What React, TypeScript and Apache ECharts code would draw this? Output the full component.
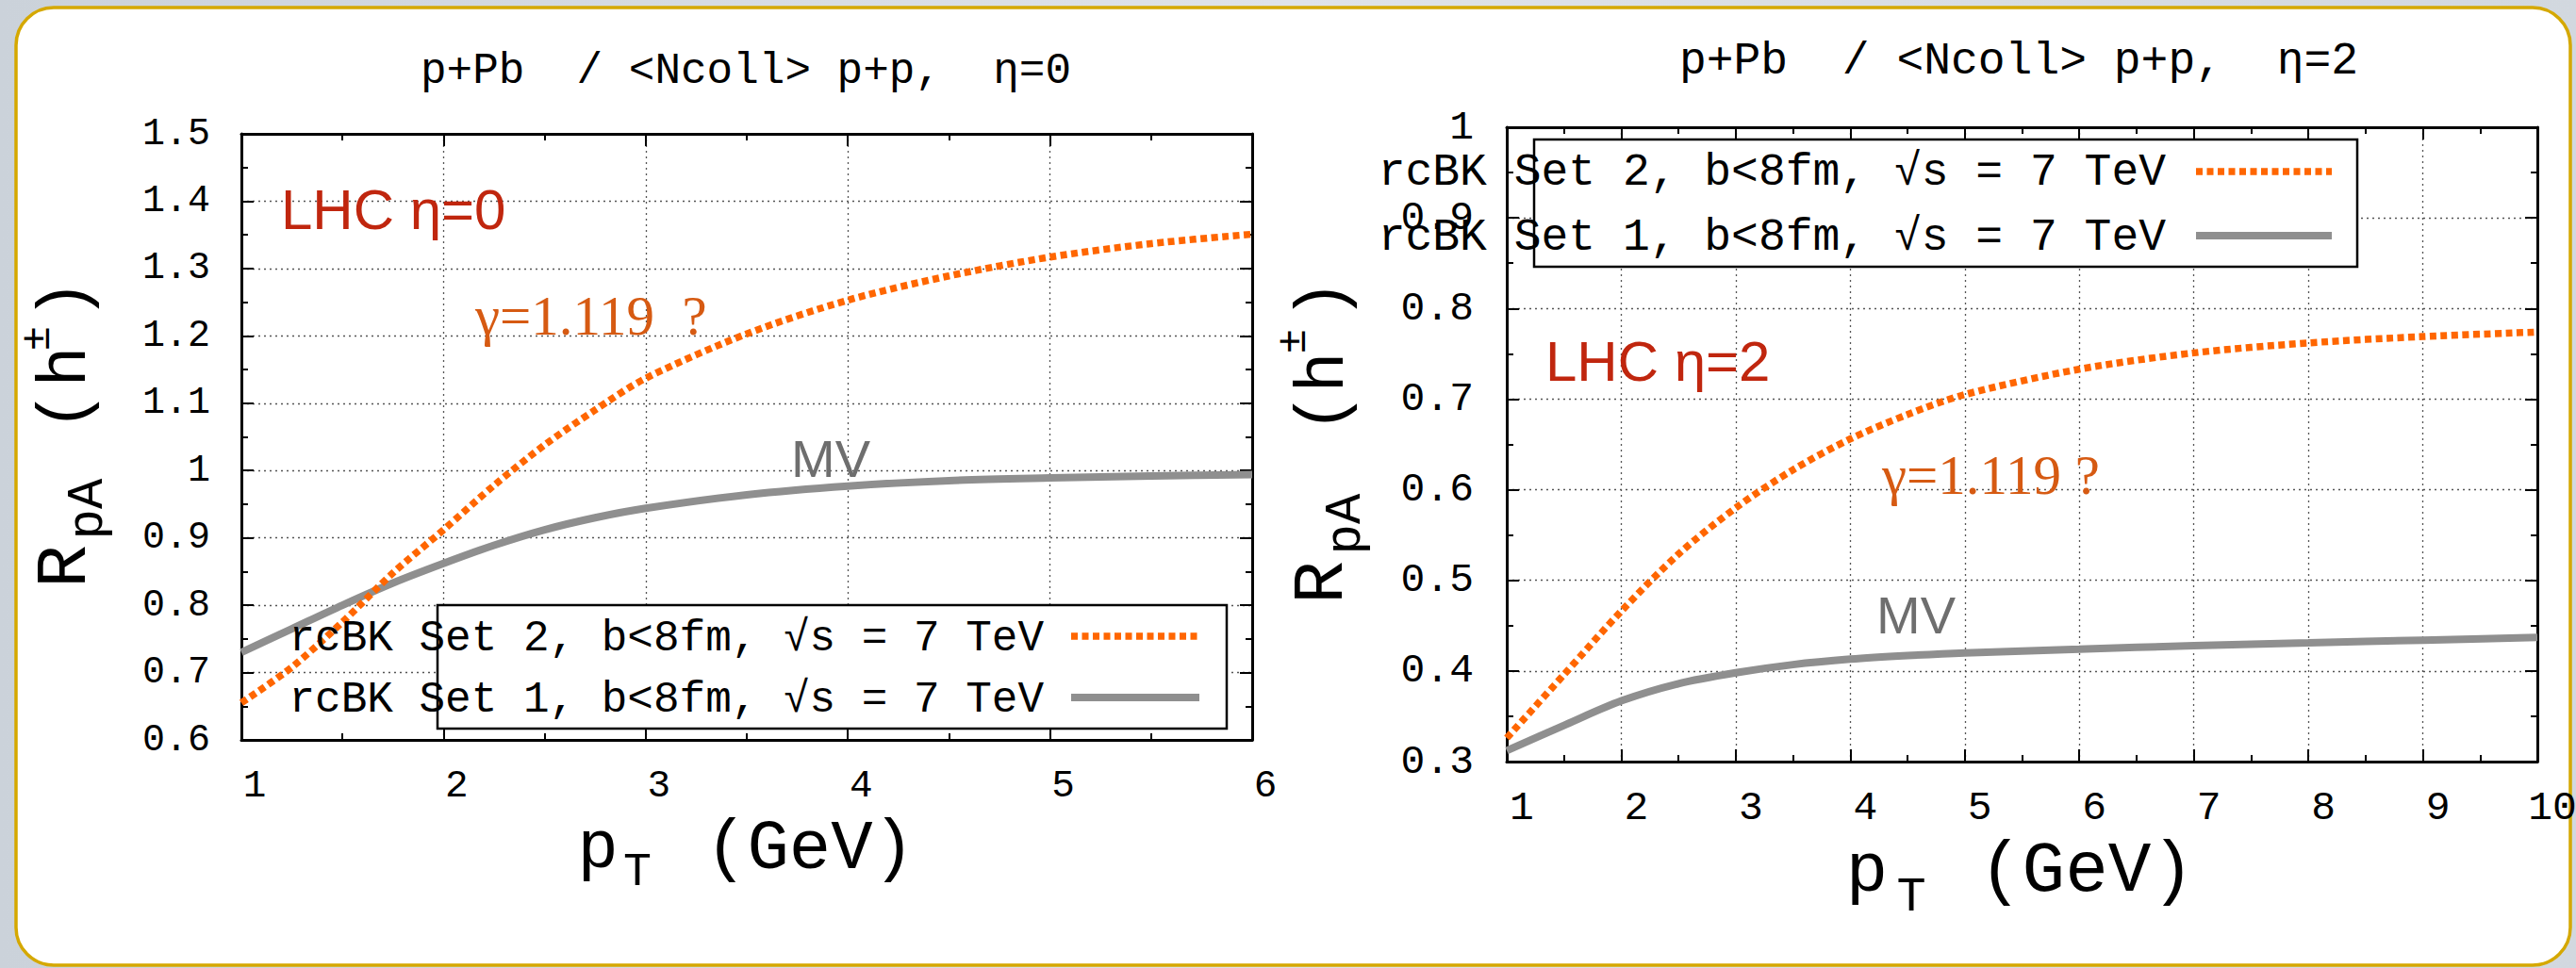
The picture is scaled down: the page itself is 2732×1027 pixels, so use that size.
import React, { useEffect, useRef } from 'react';
import * as echarts from 'echarts';

const W = 2732;
const H = 1027;

// Curve names, shared by both panels (Set 2 first, as listed in the key)
const curveNames = ['rcBK Set 2, b<8fm, √s = 7 TeV', 'rcBK Set 1, b<8fm, √s = 7 TeV'];

// η = 0 panel: R_pA versus p_T
const ptEta0 = [1, 1.25, 1.5, 1.75, 2, 2.25, 2.5, 2.75, 3, 3.5, 4, 4.5, 5, 5.5, 6];
const set2Eta0 = [0.655, 0.708, 0.775, 0.848, 0.912, 0.978, 1.038, 1.09, 1.137, 1.203, 1.253, 1.289, 1.317, 1.337, 1.351];
const set1Eta0 = [0.73, 0.765, 0.8, 0.833, 0.862, 0.889, 0.912, 0.93, 0.944, 0.964, 0.977, 0.985, 0.989, 0.992, 0.994];

// η = 2 panel: R_pA versus p_T
const ptEta2 = [1, 1.5, 2, 2.5, 3, 3.5, 4, 4.5, 5, 6, 7, 8, 9, 10];
const set2Eta2 = [0.326, 0.396, 0.466, 0.529, 0.58, 0.622, 0.656, 0.683, 0.705, 0.733, 0.751, 0.762, 0.769, 0.774];
const set1Eta2 = [0.312, 0.34, 0.367, 0.386, 0.398, 0.407, 0.413, 0.417, 0.42, 0.424, 0.428, 0.431, 0.434, 0.437];

// Axis ranges
const xRangeEta0 = [1, 6];
const yRangeEta0 = [0.6, 1.5];
const xRangeEta2 = [1, 10];
const yRangeEta2 = [0.3, 1];

// Panel texts
const panelTitles = ['p+Pb\u00a0 / <Ncoll> p+p,\u00a0 η=0', 'p+Pb\u00a0 / <Ncoll> p+p,\u00a0 η=2'];
const regionLabels = ['LHC η=0', 'LHC η=2'];
const gammaLabels = ['γ=1.119\u00a0 ?', 'γ=1.119 ?'];
const modelLabel = 'MV';

const MONO = '"Liberation Mono", "DejaVu Sans Mono", monospace';
const SANS = '"Liberation Sans", Arial, sans-serif';
const SERIF = '"Liberation Serif", "Times New Roman", serif';

const ORANGE = '#ff6600';
const GREY = '#8f8f8f';
const DOTS = [7, 4.5];

const zip = (xs: number[], ys: number[]) => xs.map((x, i) => [x, ys[i]]);

function makeXAxis(gridIndex: number, range: number[], main: boolean, lab: any) {
  return {
    type: 'value',
    gridIndex,
    position: main ? 'bottom' : 'top',
    min: range[0],
    max: range[1],
    interval: 1,
    axisLine: { show: true, onZero: false, lineStyle: { color: '#000', width: 3 } },
    axisTick: { show: true, inside: true, length: 13, lineStyle: { color: '#000', width: 2 } },
    minorTick: { show: true, splitNumber: 2, length: 7, lineStyle: { color: '#000', width: 2 } },
    splitLine: { show: main, lineStyle: { color: '#555', width: 1.3, type: [2, 4] } },
    minorSplitLine: { show: false },
    axisLabel: main
      ? {
          show: true,
          margin: lab.margin,
          fontSize: lab.size,
          fontFamily: MONO,
          color: '#000',
          padding: [0, 0, 0, lab.pad],
          showMinLabel: true,
          showMaxLabel: true,
        }
      : { show: false },
  };
}

function makeYAxis(gridIndex: number, range: number[], main: boolean, lab: any) {
  return {
    type: 'value',
    gridIndex,
    position: main ? 'left' : 'right',
    min: range[0],
    max: range[1],
    interval: 0.1,
    axisLine: { show: true, onZero: false, lineStyle: { color: '#000', width: 3 } },
    axisTick: { show: true, inside: true, length: 13, lineStyle: { color: '#000', width: 2 } },
    minorTick: { show: true, splitNumber: 2, length: 7, lineStyle: { color: '#000', width: 2 } },
    splitLine: { show: main, lineStyle: { color: '#555', width: 1.3, type: [2, 4] } },
    minorSplitLine: { show: false },
    axisLabel: main
      ? {
          show: true,
          margin: lab.margin,
          fontSize: lab.size,
          fontFamily: MONO,
          color: '#000',
          showMinLabel: true,
          showMaxLabel: true,
        }
      : { show: false },
  };
}

function txt(x: number, y: number, text: string, size: number, family: string, fill: string, align = 'left', z = 20) {
  return {
    type: 'text',
    x,
    y,
    z,
    style: {
      text,
      fontSize: size,
      fontFamily: family,
      fill,
      align,
      textAlign: align,
      verticalAlign: 'middle',
      textVerticalAlign: 'middle',
    },
  };
}

// Vertical "R_pA (h^±)" axis title; pieces are given by screen centre (x across, y along)
function yTitle(p: { R: number[]; pA: number[]; open: number[]; h: number[]; pm: number[]; close: number[] }) {
  const piece = (c: number[], t: string, size: number) => ({
    type: 'text',
    x: -c[1] * 0 + 0,
    y: 0,
    z: 20,
    style: {
      text: t,
      x: -c[1],
      y: c[0],
      fontSize: size,
      fontFamily: MONO,
      fill: '#000',
      align: 'center',
      textAlign: 'center',
      verticalAlign: 'middle',
      textVerticalAlign: 'middle',
    },
  });
  return {
    type: 'group',
    x: 0,
    y: 0,
    rotation: Math.PI / 2,
    children: [
      piece(p.R, 'R', 76),
      piece(p.pA, 'pA', 54),
      piece(p.open, '(', 72),
      piece(p.h, 'h', 72),
      piece(p.pm, '±', 44),
      piece(p.close, ')', 72),
    ],
  };
}

function legend(box: number[], textRight: number, sample: number[], rows: number[], lineRows: number[], size: number) {
  const els: any[] = [
    {
      type: 'rect',
      z: 5,
      shape: { x: box[0], y: box[1], width: box[2], height: box[3] },
      style: { fill: '#fff', stroke: '#000', lineWidth: 2.5 },
    },
  ];
  const styles = [
    { stroke: ORANGE, lineWidth: 7.5, lineDash: DOTS, lineCap: 'butt' },
    { stroke: GREY, lineWidth: 8, lineCap: 'butt' },
  ];
  curveNames.forEach((name, i) => {
    els.push(txt(textRight, rows[i], name, size, MONO, '#000', 'right', 8));
    els.push({
      type: 'line',
      z: 8,
      shape: { x1: sample[0], y1: lineRows[i], x2: sample[1], y2: lineRows[i] },
      style: styles[i],
    });
  });
  return els;
}

export default function App() {
  const ref = useRef<HTMLDivElement>(null);

  useEffect(() => {
    if (!ref.current) return;
    const chart = echarts.init(ref.current, null, { renderer: 'svg', width: W, height: H });

    const lineSeries = (name: string, xi: number, data: number[][], dotted: boolean) => ({
      type: 'line',
      name,
      xAxisIndex: xi,
      yAxisIndex: xi,
      data,
      smooth: 0.3,
      symbol: 'none',
      showSymbol: false,
      z: dotted ? 4 : 3,
      lineStyle: dotted
        ? { color: ORANGE, width: 7.5, type: DOTS, cap: 'butt' }
        : { color: GREY, width: 8, type: 'solid', cap: 'butt' },
    });

    const option: any = {
      animation: false,
      backgroundColor: 'transparent',
      grid: [
        { left: 256, top: 142, width: 1072, height: 643, outerBoundsMode: 'none', containLabel: false },
        { left: 1598, top: 135, width: 1093, height: 673, outerBoundsMode: 'none', containLabel: false },
      ],
      xAxis: [
        makeXAxis(0, xRangeEta0, true, { margin: 28, size: 41, pad: 28 }),
        makeXAxis(0, xRangeEta0, false, null),
        makeXAxis(1, xRangeEta2, true, { margin: 28, size: 43, pad: 32 }),
        makeXAxis(1, xRangeEta2, false, null),
      ],
      yAxis: [
        makeYAxis(0, yRangeEta0, true, { margin: 33, size: 40 }),
        makeYAxis(0, yRangeEta0, false, null),
        makeYAxis(1, yRangeEta2, true, { margin: 35, size: 43 }),
        makeYAxis(1, yRangeEta2, false, null),
      ],
      series: [
        lineSeries(curveNames[1], 0, zip(ptEta0, set1Eta0), false),
        lineSeries(curveNames[0], 0, zip(ptEta0, set2Eta0), true),
        lineSeries(curveNames[1], 2, zip(ptEta2, set1Eta2), false),
        lineSeries(curveNames[0], 2, zip(ptEta2, set2Eta2), true),
      ],
      graphic: [
        // page backdrop and rounded frame
        {
          type: 'rect',
          z: -20,
          silent: true,
          shape: { x: 0, y: 0, width: W, height: H },
          style: {
            fill: new echarts.graphic.LinearGradient(0, 0, 1, 0, [
              { offset: 0, color: '#cbd2da' },
              { offset: 0.5, color: '#dfe3e8' },
              { offset: 1, color: '#d2d8df' },
            ]),
          },
        },
        {
          type: 'rect',
          z: -10,
          silent: true,
          shape: { x: 17, y: 8, width: 2709, height: 1016, r: 40 },
          style: { fill: '#ffffff', stroke: '#d5a800', lineWidth: 3.5 },
        },
        // panel titles
        txt(791, 76, panelTitles[0], 46, MONO, '#000', 'center'),
        txt(2141, 65, panelTitles[1], 48, MONO, '#000', 'center'),
        // x-axis titles
        txt(634, 901, 'p', 72, MONO, '#000', 'center'),
        txt(676, 925, 'T', 50, MONO, '#000', 'center'),
        txt(859, 901, '(GeV)', 74, MONO, '#000', 'center'),
        txt(1980, 925, 'p', 74, MONO, '#000', 'center'),
        txt(2027, 952, 'T', 52, MONO, '#000', 'center'),
        txt(2213, 925, '(GeV)', 76, MONO, '#000', 'center'),
        // y-axis titles
        yTitle({ R: [69.5, 601], pA: [93, 540], open: [71, 436], h: [71, 389], pm: [40, 359], close: [71, 318] }),
        yTitle({ R: [1403, 618], pA: [1427, 556], open: [1405, 438], h: [1405, 395], pm: [1372, 362], close: [1405, 318] }),
        // annotations
        txt(298, 222, regionLabels[0], 60, SANS, '#c0260e'),
        txt(1639, 383, regionLabels[1], 60, SANS, '#c0260e'),
        txt(504, 335, gammaLabels[0], 59, SERIF, '#d65a12'),
        txt(1996, 504, gammaLabels[1], 59, SERIF, '#d65a12'),
        txt(839, 486, modelLabel, 56, SANS, '#6e6e6e'),
        txt(1990, 652, modelLabel, 56, SANS, '#6e6e6e'),
        // keys
        ...legend([464, 642, 837, 131], 1107, [1136, 1272], [678, 743], [675, 740], 46),
        ...legend([1627, 148, 873, 135], 2297, [2329, 2473], [183, 252], [182, 250], 48),
      ],
    };

    chart.setOption(option);
    return () => chart.dispose();
  }, []);

  return <div ref={ref} style={{ position: 'absolute', left: 0, top: 0, width: W, height: H }} />;
}
